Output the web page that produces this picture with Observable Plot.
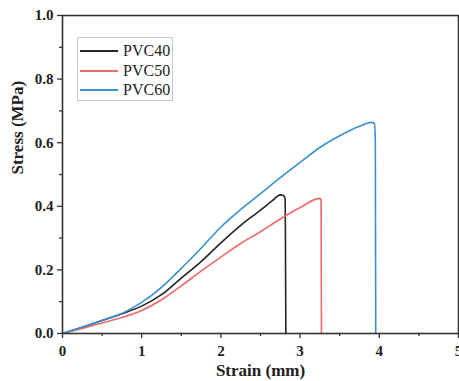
<!DOCTYPE html>
<html><head><meta charset="utf-8">
<script src="https://cdn.jsdelivr.net/npm/d3@7"></script>
<script src="https://cdn.jsdelivr.net/npm/@observablehq/plot@0.6"></script>
<style>
body{margin:0;background:#fff;}
#wrap{position:relative;width:459px;height:381px;}
#legend{position:absolute;left:77px;top:37px;width:96px;height:64px;border:1px solid #c8c8c8;background:#fff;font-family:"Liberation Serif",serif;font-size:16px;color:#222;box-sizing:border-box;}
#legend .row{position:absolute;left:2px;height:20px;display:flex;align-items:center;}
#legend svg{display:block;margin-right:5px;}
</style>
</head><body>
<div id="wrap"><div id="legend"></div></div>
<script>
const series = ["PVC40","PVC50","PVC60"];
const colors = ["#262626","#f26868","#3a8fce"];
const strain40 = [0,0.25,0.5,0.75,1.0,1.25,1.5,1.75,2.0,2.25,2.5,2.65,2.75,2.79,2.81,2.815,2.82];
const stress40 = [0,0.02,0.041,0.062,0.086,0.122,0.174,0.226,0.285,0.34,0.388,0.418,0.436,0.434,0.425,0.3,0];
const strain50 = [0,0.25,0.5,0.75,1.0,1.25,1.5,1.75,2.0,2.25,2.5,2.75,3.0,3.25,3.265,3.27];
const stress50 = [0,0.016,0.033,0.05,0.072,0.106,0.15,0.196,0.24,0.283,0.32,0.36,0.396,0.425,0.42,0];
const strain60 = [0,0.25,0.5,0.75,1.0,1.25,1.5,1.75,2.0,2.25,2.5,2.75,3.0,3.25,3.5,3.75,3.9,3.94,3.95,3.955];
const stress60 = [0,0.02,0.041,0.063,0.098,0.145,0.205,0.268,0.335,0.39,0.44,0.49,0.538,0.585,0.622,0.652,0.664,0.66,0.6,0];
const xTicks = [0,1,2,3,4,5];
const yTicks = [0,0.2,0.4,0.6,0.8,1.0];
const xMinor = [0.5,1.5,2.5,3.5,4.5];
const yMinor = [0.1,0.3,0.5,0.7,0.9];

const strains = [strain40,strain50,strain60];
const stresses = [stress40,stress50,stress60];
const data = series.flatMap((s,i)=>strains[i].map((x,j)=>({series:s,strain:x,stress:stresses[i][j]})));

const font = "'Liberation Serif', 'Times New Roman', serif";
const chart = Plot.plot({
  width:459, height:381,
  marginLeft:62, marginRight:1, marginTop:15, marginBottom:48,
  style:{fontFamily:font, fontSize:"15px", fontWeight:"bold", color:"#222", background:"#fff"},
  x:{domain:[0,5]},
  y:{domain:[0,1]},
  color:{domain:series, range:colors},
  marks:[
    Plot.axisX({ticks:xTicks, tickSize:5, tickPadding:7, tickFormat:d3.format("d"), label:null, stroke:"#333", strokeWidth:1.3}),
    Plot.axisX({ticks:xMinor, tickSize:3, text:null, label:null, stroke:"#333", strokeWidth:1.3}),
    Plot.axisY({ticks:yTicks, tickSize:5, tickPadding:4, tickFormat:d3.format(".1f"), label:null, stroke:"#333", strokeWidth:1.3}),
    Plot.axisY({ticks:yMinor, tickSize:3, text:null, label:null, stroke:"#333", strokeWidth:1.3}),
    Plot.line(data,{x:"strain", y:"stress", stroke:"series", z:"series", strokeWidth:1.6, curve:"monotone-x"}),
    Plot.frame({stroke:"#333", strokeWidth:1.6}),
    Plot.text(["Strain (mm)"],{frameAnchor:"bottom", dy:42, fontSize:17, fontWeight:"bold", fill:"#222"}),
    Plot.text(["Stress (MPa)"],{frameAnchor:"left", dx:-45, rotate:-90, fontSize:17, fontWeight:"bold", fill:"#222"})
  ]
});
document.getElementById("wrap").prepend(chart);

const legend = document.getElementById("legend");
series.forEach((s,i)=>{
  const row = document.createElement("div");
  row.className="row";
  row.style.top = (3 + i*19.5) + "px";
  row.innerHTML = `<svg width="38" height="4"><line x1="0" x2="38" y1="2" y2="2" stroke="${colors[i]}" stroke-width="2"/></svg><span>${s}</span>`;
  legend.appendChild(row);
});
</script>
</body></html>
